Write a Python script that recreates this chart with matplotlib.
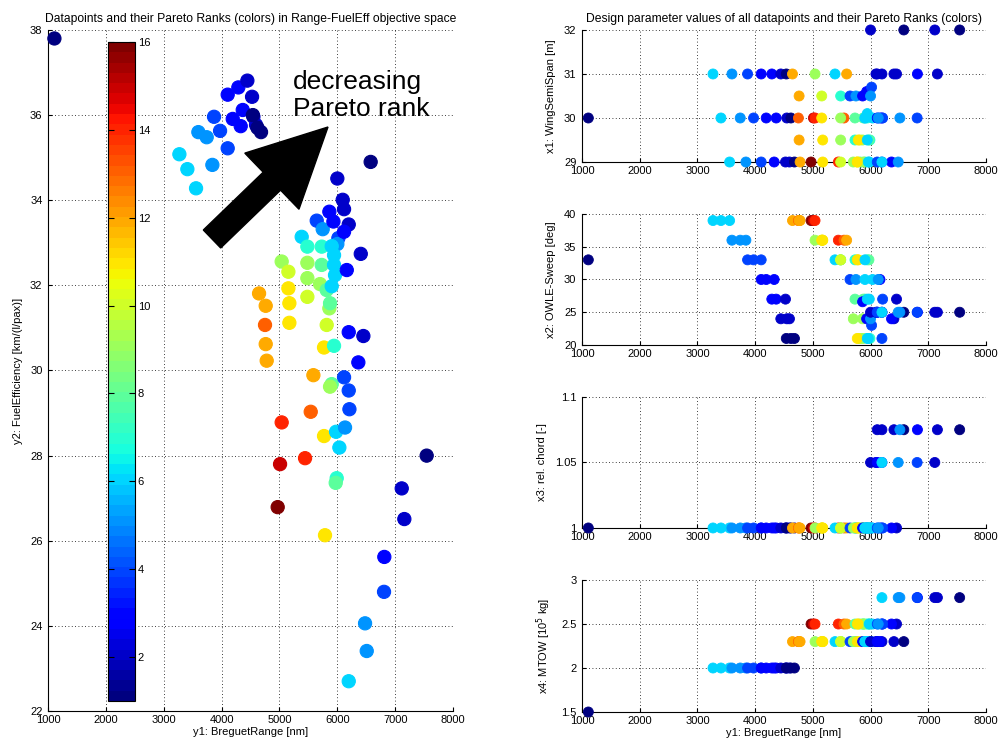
import matplotlib
matplotlib.use("Agg")
import matplotlib.pyplot as plt
from matplotlib.colors import Normalize
from matplotlib.patches import FancyArrow

plt.rcParams["font.family"] = ["Liberation Sans", "DejaVu Sans"]
plt.rcParams["font.size"] = 8

# objectives of every datapoint: y1 (range, nm), y2 (fuel efficiency) and its Pareto rank
breguet_range = [
    1110,
    3270, 3408, 3558, 3598, 3742, 3840, 3869, 3973, 4105, 4105,
    4192, 4330, 4289, 4365, 4526, 4445, 4549, 4595, 4540, 4620, 4681,
    4647, 4762, 4750, 4762, 4779, 4969, 5010, 5038,
    5038, 5154, 5154, 5171, 5171, 5442, 5540, 5586,
    5384, 5482, 5482, 5482, 5482,
    5644, 5747, 5730, 5730, 5701, 5816, 5862, 5874, 5816, 5770,
    5943, 5903, 5874, 5770, 5787, 5989, 5972, 5862, 5932, 6018,
    6000, 5903, 5943, 5943, 5960, 5903, 5978, 6035, 6000, 6093,
    6116, 6197, 6116, 6163, 6405, 6197, 6450, 6363, 6116, 6197,
    6209, 6133, 6576,
    7544, 7158, 7113, 6812, 6807, 6508, 6479, 6197,
]
fuel_eff = [
    37.80,
    35.08, 34.73, 34.28, 35.60, 35.48, 34.83, 35.96, 35.63, 35.22, 36.48,
    35.91, 35.74, 36.65, 36.12, 36.43, 36.81, 35.96, 35.77, 36.00, 35.70, 35.60,
    31.81, 31.52, 31.07, 30.62, 30.23, 26.79, 27.80, 28.78,
    32.56, 32.32, 31.93, 31.58, 31.12, 27.94, 29.03, 29.89,
    33.14, 32.91, 32.53, 32.17, 31.73,
    33.52, 33.32, 32.91, 32.48, 32.03, 31.89, 31.46, 31.58, 31.07, 30.54,
    30.58, 29.68, 29.62, 28.46, 26.13, 27.47, 27.36, 33.73, 33.50, 33.11,
    32.97, 32.92, 32.71, 32.48, 32.24, 31.98, 28.56, 28.19, 34.51, 34.01,
    33.79, 33.43, 33.26, 32.36, 32.74, 30.90, 30.81, 30.19, 29.84, 29.53,
    29.09, 28.66, 34.90,
    28.00, 26.51, 27.23, 25.62, 24.80, 23.41, 24.06, 22.70,
]
pareto_rank = [
    1,
    6, 6, 6, 5, 5, 5, 4, 4, 4, 3,
    3, 3, 3, 3, 2, 2, 2, 2, 1, 1, 1,
    12, 12, 13, 12, 12, 16, 15, 14,
    9, 10, 11, 11, 11, 14, 13, 12,
    6, 7, 9, 9, 10,
    4, 5, 7, 8, 9, 8, 9, 8, 10, 11,
    7, 8, 9, 11, 11, 7, 8, 3, 3, 4,
    5, 6, 6, 6, 6, 6, 6, 6, 2, 2,
    2, 2, 3, 3, 2, 3, 2, 3, 4, 4,
    4, 5, 1,
    1, 2, 2, 3, 4, 5, 5, 6,
]

# design parameters x1..x4 of the same datapoints
wing_semispan = [
    30,
    31, 30, 29, 31, 30, 29, 31, 30, 29, 31,
    30, 29, 31, 30, 29, 31, 30, 29, 31, 30, 29,
    31, 30.5, 30, 29.5, 29, 29, 30, 30,
    31, 30.5, 30, 29.5, 29, 29, 30, 31,
    31, 30.5, 30, 29.5, 29,
    30.5, 30.5, 29.5, 30, 29, 29, 29.5, 30, 29.5, 29,
    30, 29, 29, 29, 29.5, 29.5, 29.5, 30.5, 30.6, 30.7,
    30.5, 30, 30.1, 29.5, 29, 30, 29, 30, 32, 31,
    31, 31, 30, 30, 31, 30, 31, 29, 29, 29,
    30, 30, 32,
    32, 31, 32, 31, 30, 30, 29, 29,
]
owle_sweep = [
    33,
    39, 39, 39, 36, 36, 36, 33, 33, 33, 30,
    30, 30, 27, 27, 27, 24, 24, 24, 21, 21, 21,
    39, 39, 39, 39, 39, 39, 39, 39,
    36, 36, 36, 36, 36, 36, 36, 36,
    33, 33, 33, 33, 33,
    30, 30, 33, 27, 24, 21, 24, 27, 21, 33,
    33, 27, 21, 21, 33, 21, 33, 26.6, 24, 23,
    24, 30, 27, 21, 21, 33, 27, 30, 25, 25,
    25, 25, 25, 30, 24, 25, 27, 24, 25, 21,
    27, 30, 25,
    25, 25, 25, 25, 25, 25, 25, 25,
]
rel_chord = [
    1.0,
    1.0, 1.0, 1.0, 1.0, 1.0, 1.0, 1.0, 1.0, 1.0, 1.0,
    1.0, 1.0, 1.0, 1.0, 1.0, 1.0, 1.0, 1.0, 1.0, 1.0, 1.0,
    1.0, 1.0, 1.0, 1.0, 1.0, 1.0, 1.0, 1.0,
    1.0, 1.0, 1.0, 1.0, 1.0, 1.0, 1.0, 1.0,
    1.0, 1.0, 1.0, 1.0, 1.0,
    1.0, 1.0, 1.0, 1.0, 1.0, 1.0, 1.0, 1.0, 1.0, 1.0,
    1.0, 1.0, 1.0, 1.0, 1.0, 1.0, 1.0, 1.0, 1.0, 1.0,
    1.0, 1.0, 1.0, 1.0, 1.0, 1.0, 1.0, 1.0, 1.05, 1.05,
    1.075, 1.075, 1.05, 1.0, 1.075, 1.05, 1.0, 1.0, 1.0, 1.0,
    1.0, 1.0, 1.075,
    1.075, 1.075, 1.05, 1.075, 1.05, 1.075, 1.05, 1.05,
]
mtow = [
    1.5,
    2.0, 2.0, 2.0, 2.0, 2.0, 2.0, 2.0, 2.0, 2.0, 2.0,
    2.0, 2.0, 2.0, 2.0, 2.0, 2.0, 2.0, 2.0, 2.0, 2.0, 2.0,
    2.3, 2.3, 2.3, 2.3, 2.3, 2.5, 2.5, 2.5,
    2.3, 2.3, 2.3, 2.3, 2.3, 2.5, 2.5, 2.5,
    2.3, 2.3, 2.3, 2.3, 2.3,
    2.3, 2.3, 2.3, 2.5, 2.3, 2.5, 2.5, 2.5, 2.3, 2.3,
    2.5, 2.5, 2.5, 2.5, 2.5, 2.5, 2.5, 2.3, 2.3, 2.3,
    2.3, 2.3, 2.3, 2.3, 2.3, 2.3, 2.5, 2.5, 2.3, 2.3,
    2.3, 2.3, 2.3, 2.3, 2.3, 2.5, 2.5, 2.5, 2.5, 2.5,
    2.5, 2.5, 2.3,
    2.8, 2.8, 2.8, 2.8, 2.8, 2.8, 2.8, 2.8,
]

design_panels = [
    (wing_semispan, "x1: WingSemiSpan [m]", (29, 32), [29, 30, 31, 32]),
    (owle_sweep, "x2: OWLE-Sweep [deg]", (20, 40), [20, 25, 30, 35, 40]),
    (rel_chord, "x3: rel. chord [-]", (1.0, 1.1), [1.0, 1.05, 1.1]),
    (mtow, "x4: MTOW [10$^5$ kg]", (1.5, 3.0), [1.5, 2.0, 2.5, 3.0]),
]
range_ticks = [1000, 2000, 3000, 4000, 5000, 6000, 7000, 8000]
rank_ticks = [2, 4, 6, 8, 10, 12, 14, 16]

cmap = plt.get_cmap("jet", 64)
norm = Normalize(vmin=1, vmax=16)


def style_axes(ax):
    # matlab-like look: dotted grid, only left/bottom axis lines, inward ticks
    ax.grid(True, linestyle=(0, (1, 3)), color="black", linewidth=0.6)
    ax.set_axisbelow(True)
    for side in ("top", "right"):
        ax.spines[side].set_visible(False)
    ax.tick_params(direction="in", length=3, labelsize=8)
    ax.tick_params(axis="x", pad=3)
    ax.tick_params(axis="y", pad=4)


fig = plt.figure(figsize=(10.01, 7.49), dpi=100)

# objective space
ax = fig.add_axes([0.048, 0.0507, 0.4046, 0.9093])
sc = ax.scatter(breguet_range, fuel_eff, c=pareto_rank, cmap=cmap, norm=norm,
                s=90, linewidths=0.8, edgecolors="face", clip_on=False, zorder=3)
ax.set_xlim(1000, 8000)
ax.set_ylim(22, 38)
ax.set_xticks(range_ticks)
ax.set_yticks(range(22, 39, 2))
ax.set_xlabel("y1: BreguetRange [nm]", labelpad=1)
ax.set_ylabel("y2: FuelEfficiency [km/(l/pax)]", labelpad=5)
ax.set_title("Datapoints and their Pareto Ranks (colors) in Range-FuelEff objective space",
             fontsize=8.7, pad=6)
style_axes(ax)

cax = fig.add_axes([108 / 1001, 1 - 701 / 749, 27 / 1001, 659 / 749])
cb = fig.colorbar(sc, cax=cax, ticks=rank_ticks)
cb.outline.set_linewidth(0.8)
cax.tick_params(direction="in", length=4, left=True, right=True, labelsize=8, pad=2)

fig.text(293 / 1001, 1 - 70 / 749, "decreasing\nPareto rank", fontsize=19,
         ha="left", va="top", linespacing=1.15)
# big arrow, drawn in inches so it keeps its shape
arrow = FancyArrow(2.12, 7.49 - 2.39, 1.16, 1.12, width=0.25, head_width=0.78,
                   head_length=0.78, length_includes_head=True,
                   transform=fig.dpi_scale_trans, color="black", zorder=5)
fig.add_artist(arrow)

# design parameter panels
panel_boxes = [(0.7837, 0.1763), (0.5394, 0.1749), (0.2951, 0.1749), (0.0494, 0.1762)]
for (vals, label, lims, ticks), (bottom, height) in zip(design_panels, panel_boxes):
    pax = fig.add_axes([0.5814, bottom, 0.4036, height])
    pax.scatter(breguet_range, vals, c=pareto_rank, cmap=cmap, norm=norm,
                s=52, linewidths=0.6, edgecolors="face", clip_on=False, zorder=3)
    pax.set_xlim(1000, 8000)
    pax.set_ylim(*lims)
    pax.set_xticks(range_ticks)
    pax.set_yticks(ticks)
    pax.set_yticklabels([f"{t:g}" for t in ticks])
    pax.set_ylabel(label, labelpad=6)
    style_axes(pax)
    if bottom < 0.1:
        pax.set_xlabel("y1: BreguetRange [nm]", labelpad=1)
    if bottom > 0.7:
        pax.set_title("Design parameter values of all datapoints and their Pareto Ranks (colors)",
                      fontsize=8.7, pad=6)

fig.savefig("out.png", dpi=100)
